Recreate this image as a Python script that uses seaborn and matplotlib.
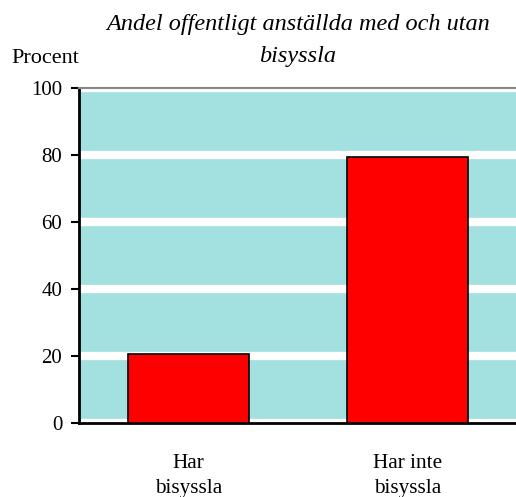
import matplotlib
matplotlib.use("Agg")
import matplotlib.pyplot as plt
import seaborn as sns
import pandas as pd

categories = ["Har\nbisyssla", "Har inte\nbisyssla"]
values = [20.6, 79.4]
yticks = [0, 20, 40, 60, 80, 100]

sns.set_theme(style="white")
plt.rcParams['font.family'] = ['Liberation Serif', 'DejaVu Serif']
plt.rcParams['text.color'] = 'black'

df = pd.DataFrame({"cat": categories, "val": values})

fig = plt.figure(figsize=(5.16, 4.97), dpi=100)
ax = fig.add_axes([0.1531, 0.1489, 0.8489, 0.674])
ax.set_facecolor("#a3e0e0")

sns.barplot(data=df, x="cat", y="val", ax=ax, color="#ff0000",
            edgecolor="black", linewidth=1.2, width=0.55, saturation=1, zorder=3)

ax.set_ylim(0, 100)
ax.set_xlim(-0.5, 1.5)
ax.set_yticks(yticks)
ax.set_yticklabels([str(t) for t in yticks], fontsize=15)
ax.yaxis.grid(True, color="white", linewidth=6, zorder=0)
ax.set_axisbelow(True)
ax.tick_params(axis="y", left=True, length=5.5, width=1.5, color="black", pad=6.5, labelcolor="black")
ax.tick_params(axis="x", bottom=False, labelsize=15.3, pad=16, labelcolor="black")
for lab in ax.get_xticklabels():
    lab.set_linespacing(1.45)
ax.set_xlabel("")
ax.set_ylabel("")

ax.spines["left"].set_color("black")
ax.spines["left"].set_linewidth(2)
ax.spines["bottom"].set_color("black")
ax.spines["bottom"].set_linewidth(2)
ax.spines["top"].set_visible(True)
ax.spines["top"].set_color("#888888")
ax.spines["top"].set_linewidth(1.5)
ax.spines["right"].set_visible(False)

fig.text(0.5775, 0.9396, "Andel offentligt anställda med och utan",
         ha="center", va="baseline", fontsize=17.5, style="italic")
fig.text(0.5775, 0.8753, "bisyssla",
         ha="center", va="baseline", fontsize=17.5, style="italic")
fig.text(0.0227, 0.8726, "Procent", ha="left", va="baseline", fontsize=16)

fig.savefig("out.png", dpi=100)
